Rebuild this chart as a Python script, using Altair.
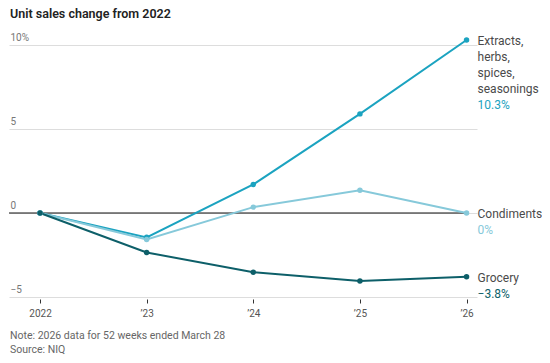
import altair as alt
import pandas as pd

years = [2022, 2023, 2024, 2025, 2026]
extracts = [0, -1.45, 1.7, 5.9, 10.3]
condiments = [0, -1.58, 0.35, 1.35, 0]
grocery = [0, -2.35, -3.53, -4.05, -3.8]

series_names = ["Extracts, herbs, spices, seasonings", "Condiments", "Grocery"]
series_labels = [["Extracts,", "herbs,", "spices,", "seasonings"], ["Condiments"], ["Grocery"]]
series_values = ["10.3%", "0%", "−3.8%"]
colors = ["#1ba3c0", "#86c9da", "#0d5f69"]
value_colors = ["#2a9cbd", "#8fb9c8", "#3f6f77"]

title = "Unit sales change from 2022"
note = "Note: 2026 data for 52 weeks ended March 28"
source = "Source: NIQ"

FONT = "Roboto"

rows = []
for name, vals in zip(series_names, [extracts, condiments, grocery]):
    for y, v in zip(years, vals):
        rows.append({"year": y, "value": v, "series": name})
df = pd.DataFrame(rows)

lab_rows = []
for name, lines, val, vals in zip(series_names, series_labels, series_values, [extracts, condiments, grocery]):
    lab_rows.append({"year": years[-1], "value": vals[-1], "series": name,
                     "lines": lines, "valtext": val, "n": len(lines)})
labdf = pd.DataFrame(lab_rows)

xscale = alt.Scale(domain=[2021.709, 2026.098], nice=False, zero=False)
yscale = alt.Scale(domain=[-5, 10], nice=False, zero=False)
cscale = alt.Scale(domain=series_names, range=colors)
vcscale = alt.Scale(domain=series_names, range=value_colors)

base = alt.Chart(df)

lines = base.mark_line(strokeWidth=2).encode(
    x=alt.X("year:Q", scale=xscale, axis=alt.Axis(
        values=years, title=None, domain=False, grid=False, ticks=True,
        tickSize=4, tickColor="#333", offset=2, labelPadding=5,
        labelFont=FONT, labelFontSize=10, labelColor="#555",
        labelExpr="datum.value == 2022 ? '2022' : '\u2019' + substring(toString(datum.value), 2, 4)")),
    y=alt.Y("value:Q", scale=yscale, axis=alt.Axis(
        values=[-5, 0, 5, 10], title=None, domain=False, ticks=False,
        grid=True, gridColor="#dddddd", gridWidth=1,
        labelAlign="left", labelBaseline="bottom", labelPadding=-1, labelOffset=-3,
        labelFont=FONT, labelFontSize=10, labelColor="#777",
        labelExpr="datum.value == 10 ? '10%' : (datum.value < 0 ? '\u2212' + toString(abs(datum.value)) : toString(datum.value))")),
    color=alt.Color("series:N", scale=cscale, legend=None),
    detail="series:N",
)

points = base.mark_circle(size=30, opacity=1).encode(
    x=alt.X("year:Q", scale=xscale),
    y=alt.Y("value:Q", scale=yscale),
    color=alt.Color("series:N", scale=cscale, legend=None),
)

zero = alt.Chart(pd.DataFrame({"a": [2021.709], "b": [2026.0], "v": [0]})).mark_rule(
    color="#111", strokeWidth=1).encode(
    x=alt.X("a:Q", scale=xscale), x2="b:Q", y=alt.Y("v:Q", scale=yscale))

names = alt.Chart(labdf).mark_text(
    align="left", baseline="alphabetic", dx=11, dy=5, lineHeight=16,
    font=FONT, fontSize=12, color="#4a4a4a").encode(
    x=alt.X("year:Q", scale=xscale), y=alt.Y("value:Q", scale=yscale), text="lines")


def value_layer(nlines):
    return alt.Chart(labdf).transform_filter(f"datum.n == {nlines}").mark_text(
        align="left", baseline="alphabetic", dx=11, dy=5 + 16 * nlines,
        font=FONT, fontSize=12).encode(
        x=alt.X("year:Q", scale=xscale),
        y=alt.Y("value:Q", scale=yscale),
        text="valtext:N",
        color=alt.Color("series:N", scale=vcscale, legend=None))


vals1 = value_layer(1)
vals4 = value_layer(4)

title_t = alt.Chart(pd.DataFrame({"t": [title]})).mark_text(
    align="left", baseline="alphabetic", font=FONT, fontSize=12.5, fontWeight=600, color="#222").encode(
    x=alt.value(1), y=alt.value(-27), text="t:N")

note_t = alt.Chart(pd.DataFrame({"t": [note, source], "i": [0, 1]})).transform_calculate(
    yy="291 + datum.i * 14").mark_text(
    align="left", baseline="middle", font=FONT, fontSize=10.5, color="#666").encode(
    x=alt.value(1), y=alt.Y("yy:Q", scale=None), text="t:N")

chart = alt.layer(zero, lines, points, names, vals1, vals4, title_t, note_t).properties(
    width=468, height=252,
    background="white",
    autosize=alt.AutoSizeParams(type="none"),
    padding={"left": 1, "top": 37, "right": 65, "bottom": 58},
).configure_view(stroke=None)

chart.save("out.html", embed_options={"renderer": "svg", "actions": False})
